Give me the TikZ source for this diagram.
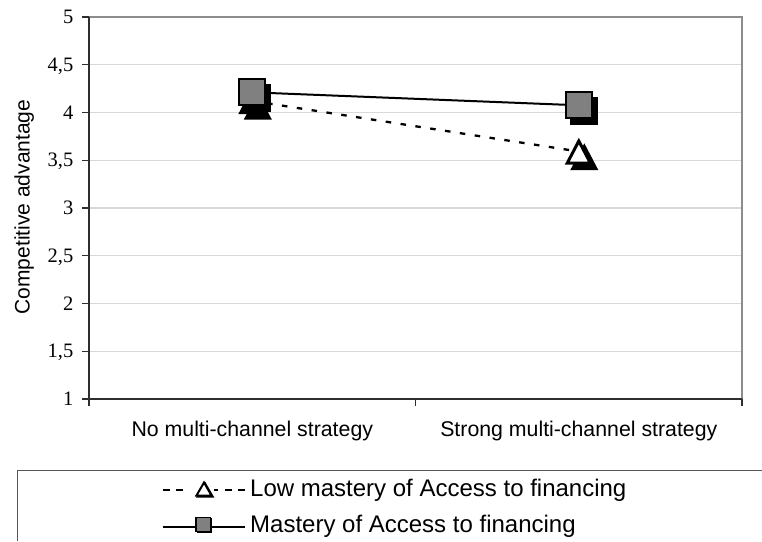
\documentclass[tikz,border=0pt]{standalone}
\usepackage{fontspec}
\setmainfont{Liberation Sans}
\newfontfamily\ticksfont{Liberation Serif}
\definecolor{gridgray}{HTML}{D9D9D9}
\definecolor{framegray}{HTML}{8C8C8C}
\definecolor{axisdark}{HTML}{2E2E2E}
\definecolor{markgray}{HTML}{808080}
\definecolor{boxgray}{HTML}{555555}
\begin{document}
\begin{tikzpicture}[x=1pt,y=-1pt,
  gridline/.style={draw=gridgray,line width=1.4pt},
  plotframe/.style={draw=framegray,line width=1.8pt},
  axisline/.style={draw=axisdark,line width=1.8pt},
  tickmark/.style={draw=axisdark,line width=1.3pt},
  ylab/.style={font=\ticksfont\fontsize{20.5}{21}\selectfont,anchor=base east,inner sep=0pt},
  xlab/.style={font=\fontsize{21.3}{24}\selectfont,anchor=base,inner sep=0pt},
  legtext/.style={font=\fontsize{24}{28}\selectfont,anchor=base west,inner sep=0pt},
  lowline/.style={line width=2.3pt,dash pattern=on 5.5pt off 9.5pt},
  mastline/.style={line width=2pt},
  leglowline/.style={line width=2pt,dash pattern=on 7pt off 6.3pt},
  legmastline/.style={line width=2pt},
  % large series markers with a solid black drop shadow
  bigtri/.pic={
    \filldraw[black,line width=3pt,line join=miter,shift={(5.5,5.5)}]
      (0,-10.5) -- (11.5,11.5) -- (-11.5,11.5) -- cycle;
    \filldraw[fill=white,draw=black,line width=3pt,line join=miter]
      (0,-10.5) -- (11.5,11.5) -- (-11.5,11.5) -- cycle;
  },
  bigsq/.pic={
    \filldraw[black,line width=2pt,shift={(5.5,5.5)}] (-13,-13) rectangle (13,13);
    \filldraw[fill=markgray,draw=black,line width=2pt] (-13,-13) rectangle (13,13);
  },
  % small legend markers
  smalltri/.pic={
    \filldraw[black,line width=2pt,line join=miter,shift={(1.2,1.2)}]
      (0,-6.5) -- (7.5,6.5) -- (-7.5,6.5) -- cycle;
    \filldraw[fill=white,draw=black,line width=2pt,line join=miter]
      (0,-6.5) -- (7.5,6.5) -- (-7.5,6.5) -- cycle;
  },
  smallsq/.pic={
    \filldraw[black,line width=1.5pt,shift={(1.2,1.2)}] (-7.2,-7) rectangle (7.2,7);
    \filldraw[fill=markgray,draw=black,line width=1.5pt] (-7.2,-7) rectangle (7.2,7);
  },
]
\useasboundingbox (0,0) rectangle (762,541);

% horizontal grid lines (value v sits at y = 399 - (v-1)*95.5)
\foreach \v in {1.5,2,...,4.5}{
  \pgfmathsetmacro{\yy}{399-(\v-1)*95.5}
  \draw[gridline] (89,\yy) -- (742,\yy);
}

% plot frame: top and right edges
\draw[plotframe] (89,17) -- (742,17) -- (742,399);

% value axis with tick marks and labels
\draw[axisline] (89,17) -- (89,399);
\foreach \v/\t [count=\i] in {1/1,1.5/{1,5},2/2,2.5/{2,5},3/3,3.5/{3,5},4/4,4.5/{4,5},5/5}{
  \pgfmathsetmacro{\yy}{399-(\v-1)*95.5}
  \draw[tickmark] (82,\yy) -- (89,\yy);
  \node[ylab] (ytick\i) at (73.5,\yy+6.5) {\t};
}
\node[font=\fontsize{21}{24}\selectfont,rotate=90,anchor=base,inner sep=0pt]
  (yaxislabel) at (29.5,207) {Competitive advantage};

% category axis with tick marks and labels
\draw[axisline] (89,399) -- (742,399);
\foreach \x in {89,415.7,742}{
  \draw[tickmark] (\x,399) -- (\x,406);
}
\node[xlab] (catA) at (252.3,436.7) {No multi-channel strategy};
\node[xlab] (catB) at (578.8,436.7) {Strong multi-channel strategy};

% data points
\coordinate (lowA)  at (252.3,101);
\coordinate (lowB)  at (578.8,151.5);
\coordinate (mastA) at (251.7,92.3);
\coordinate (mastB) at (578.8,105.3);

% low mastery series
\draw[lowline] (lowA) -- (lowB);
\pic at (lowA) {bigtri};
\pic at (lowB) {bigtri};

% mastery series
\draw[mastline] (mastA) -- (mastB);
\pic at (mastA) {bigsq};
\pic at (mastB) {bigsq};

% legend
\draw[draw=boxgray,line width=1.5pt] (762,470.7) -- (17.7,470.7) -- (17.7,541);
\coordinate (legLowL) at (162.7,490);
\coordinate (legLowML) at (186,490);
\coordinate (legLowMR) at (214,490);
\coordinate (legLowR) at (245,490);
\draw[leglowline] (legLowL) -- (legLowML);
\draw[leglowline] (legLowR) -- (legLowMR);
\pic at (204,489) {smalltri};
\node[legtext] (legLow) at (250,496.7) {Low mastery of Access to financing};

\coordinate (legMastL) at (162.7,526.7);
\coordinate (legMastR) at (245,526.7);
\draw[legmastline] (legMastL) -- (legMastR);
\pic at (203.3,524.5) {smallsq};
\node[legtext] (legMast) at (250,532.3) {Mastery of Access to financing};
\end{tikzpicture}
\end{document}
